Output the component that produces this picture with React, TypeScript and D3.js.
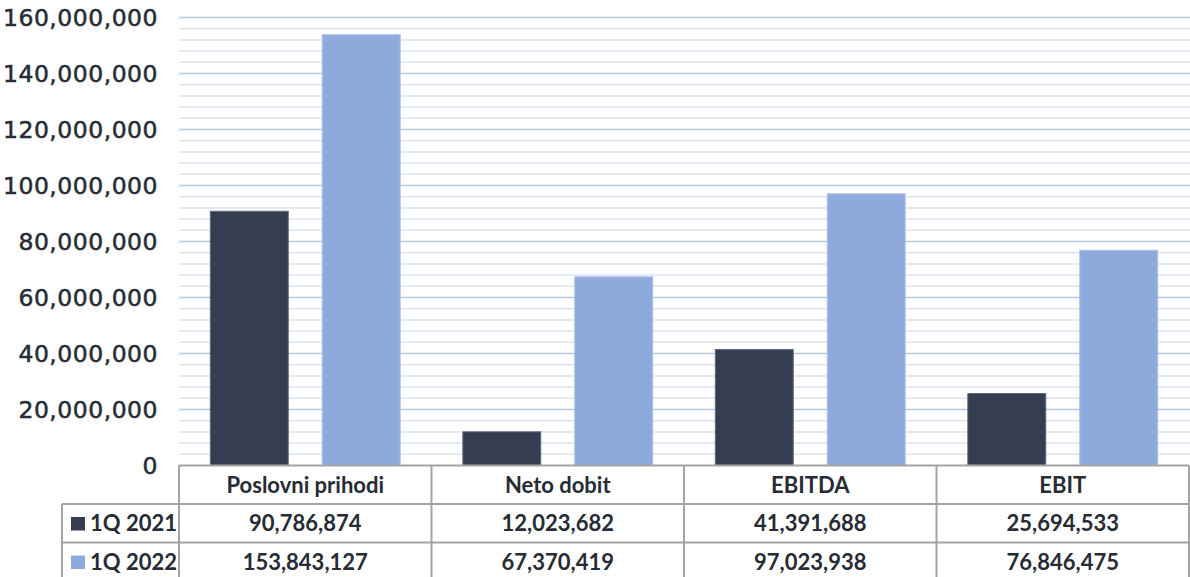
import React from "react";
import * as d3 from "d3";

const categories = ["Poslovni prihodi", "Neto dobit", "EBITDA", "EBIT"];
const seriesNames = ["1Q 2021", "1Q 2022"];
const values2021 = [90786874, 12023682, 41391688, 25694533];
const values2022 = [153843127, 67370419, 97023938, 76846475];
const seriesColors = ["#343e50", "#8eaadc"];
const seriesStrokes = ["#5b6678", "#a9c0e6"];
const yTicks = [0, 20000000, 40000000, 60000000, 80000000, 100000000, 120000000, 140000000, 160000000];

const W = 1190;
const H = 577;
const plotLeft = 179;
const plotRight = 1189;
const plotTop = 17.5;
const plotBottom = 465.5;
const rowH = 38.5;

export default function App() {
  const series = [values2021, values2022];
  const y = d3.scaleLinear().domain([0, 160000000]).range([plotBottom, plotTop]);
  const x0 = d3.scaleBand<string>().domain(categories).range([plotLeft, plotRight]).padding(0);
  const x1 = d3
    .scaleBand<string>()
    .domain(seriesNames)
    .range([0, x0.bandwidth()])
    .paddingInner(0.304)
    .paddingOuter(0.28);
  const minor = d3.range(0, 160000001, 4000000).filter((v) => v % 20000000 !== 0);
  const fmt = d3.format(",");
  const axisFont = "'DejaVu Sans', sans-serif";
  const tableFont = "Lato, 'Open Sans', sans-serif";
  const textColor = "#262b35";
  const border = "#a3a3a3";

  const rowsTop = plotBottom;
  const r1 = rowsTop + rowH;
  const r2 = r1 + rowH;
  const r3 = r2 + rowH;
  const legendLeft = 62;

  return (
    <svg
      width={W}
      height={H}
      style={{ position: "absolute", left: 0, top: 0, background: "#fff" }}
    >
      {/* minor gridlines */}
      {minor.map((v) => (
        <line key={"m" + v} x1={plotLeft} x2={W} y1={y(v)} y2={y(v)} stroke="#dce4f3" strokeWidth={1.5} />
      ))}
      {/* major gridlines */}
      {yTicks
        .filter((v) => v > 0)
        .map((v) => (
          <line key={"M" + v} x1={plotLeft} x2={W} y1={y(v)} y2={y(v)} stroke="#b7c7e4" strokeWidth={1.5} />
        ))}
      {/* y axis labels */}
      {yTicks.map((v) => (
        <text
          key={"t" + v}
          x={158}
          y={y(v)}
          dy="0.36em"
          textAnchor="end"
          fontFamily={axisFont}
          fontSize={23.5}
          letterSpacing={0.5}
          fill={textColor}
          stroke={textColor}
          strokeWidth={0.5}
        >
          {v === 0 ? "0" : fmt(v)}
        </text>
      ))}
      {/* bars */}
      {categories.map((c, ci) =>
        seriesNames.map((s, si) => {
          const v = series[si][ci];
          const bx = (x0(c) as number) + (x1(s) as number);
          return (
            <rect
              key={c + s}
              x={bx}
              y={y(v)}
              width={x1.bandwidth()}
              height={plotBottom - y(v)}
              fill={seriesColors[si]}
              stroke={seriesStrokes[si]}
              strokeWidth={1}
            />
          );
        })
      )}
      {/* table */}
      <g fill="none" stroke={border} strokeWidth={2}>
        <line x1={plotLeft} x2={plotRight} y1={rowsTop} y2={rowsTop} />
        <line x1={legendLeft} x2={plotRight} y1={r1} y2={r1} />
        <line x1={legendLeft} x2={plotRight} y1={r2} y2={r2} />
        <line x1={legendLeft} x2={plotRight} y1={r3} y2={r3} />
        <line x1={legendLeft} x2={legendLeft} y1={r1} y2={r3} />
        {categories.map((c) => (
          <line key={"v" + c} x1={x0(c) as number} x2={x0(c) as number} y1={rowsTop} y2={r3} />
        ))}
        <line x1={plotRight} x2={plotRight} y1={rowsTop} y2={r3} />
      </g>
      {categories.map((c) => (
        <text
          key={"h" + c}
          x={(x0(c) as number) + x0.bandwidth() / 2}
          y={(rowsTop + r1) / 2}
          dy="0.36em"
          textAnchor="middle"
          fontFamily={tableFont}
          fontWeight="bold"
          fontSize={22}
          fill={textColor}
        >
          {c}
        </text>
      ))}
      {seriesNames.map((s, si) => {
        const top = r1 + si * rowH;
        return (
          <g key={"row" + s}>
            <rect x={71} y={top + 13} width={14} height={13.5} fill={seriesColors[si]} />
            <text
              x={90}
              y={top + rowH / 2}
              dy="0.36em"
              fontFamily={tableFont}
              fontWeight="bold"
              fontSize={22}
              fill={textColor}
            >
              {s}
            </text>
            {categories.map((c, ci) => (
              <text
                key={"c" + c}
                x={(x0(c) as number) + x0.bandwidth() / 2}
                y={top + rowH / 2}
                dy="0.36em"
                textAnchor="middle"
                fontFamily={tableFont}
                fontWeight="bold"
                fontSize={22}
                fill={textColor}
              >
                {fmt(series[si][ci])}
              </text>
            ))}
          </g>
        );
      })}
    </svg>
  );
}
